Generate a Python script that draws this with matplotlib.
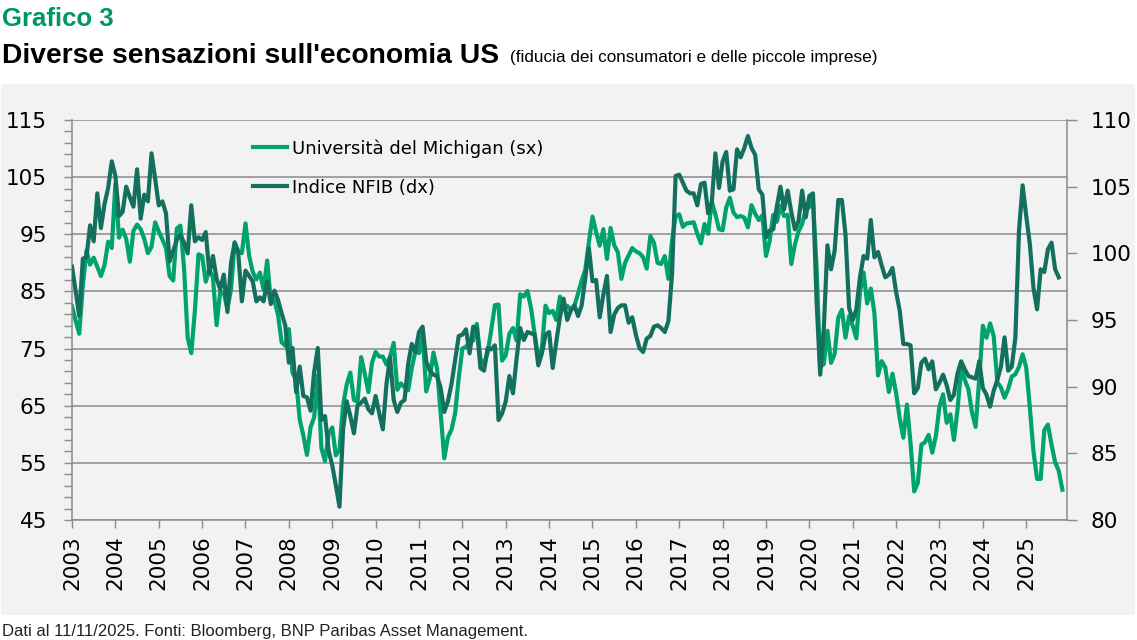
import matplotlib
matplotlib.use('Agg')
import matplotlib.pyplot as plt
import matplotlib.patches as mpatches
import numpy as np

# ============ dati mensili (gen 2003 - nov 2025) ============
michigan = [
    82.4, 79.9, 77.6, 86.0, 92.1, 89.7, 90.9, 89.3, 87.7, 89.6, 93.7, 92.6,   # 2003
    103.8, 94.4, 95.8, 94.2, 90.2, 95.6, 96.7, 95.9, 94.2, 91.7, 92.8, 97.1,  # 2004
    95.5, 94.1, 92.6, 87.7, 86.9, 96.0, 96.5, 89.1, 76.9, 74.2, 81.6, 91.5,   # 2005
    91.2, 86.7, 88.9, 87.4, 79.1, 84.9, 84.7, 82.0, 85.4, 93.6, 92.1, 91.7,   # 2006
    96.9, 91.3, 88.4, 87.1, 88.3, 85.3, 90.4, 83.4, 83.4, 80.9, 76.1, 75.5,   # 2007
    78.4, 70.8, 69.5, 62.6, 59.8, 56.4, 61.2, 63.0, 70.3, 57.6, 55.3, 60.1,   # 2008
    61.2, 56.3, 57.3, 65.1, 68.7, 70.8, 66.0, 65.7, 73.5, 70.6, 67.4, 72.5,   # 2009
    74.4, 73.6, 73.6, 72.2, 73.6, 76.0, 67.8, 68.9, 68.2, 67.7, 71.6, 74.5,   # 2010
    74.2, 77.5, 67.5, 69.8, 74.3, 71.5, 63.7, 55.8, 59.5, 60.8, 63.7, 69.9,   # 2011
    75.0, 75.3, 76.2, 76.4, 79.3, 73.2, 72.3, 74.3, 78.3, 82.6, 82.7, 72.9,   # 2012
    73.8, 77.6, 78.6, 76.4, 84.5, 84.1, 85.1, 82.1, 77.5, 73.2, 75.1, 82.5,   # 2013
    81.2, 81.6, 80.0, 84.1, 81.9, 82.5, 81.8, 82.5, 84.6, 86.9, 88.8, 93.6,   # 2014
    98.1, 95.4, 93.0, 95.9, 90.7, 96.1, 93.1, 91.9, 87.2, 90.0, 91.3, 92.6,   # 2015
    92.0, 91.7, 91.0, 89.0, 94.7, 93.5, 90.0, 89.8, 91.2, 87.2, 93.8, 98.2,   # 2016
    98.5, 96.3, 96.9, 97.0, 97.1, 95.1, 93.4, 96.8, 95.1, 100.7, 98.5, 95.9,  # 2017
    95.7, 99.7, 101.4, 98.8, 98.0, 98.2, 97.9, 96.2, 100.1, 98.6, 97.5, 98.3, # 2018
    91.2, 93.8, 98.4, 97.2, 100.0, 98.2, 98.4, 89.8, 93.2, 95.5, 96.8, 99.3,  # 2019
    99.8, 101.0, 89.1, 71.8, 72.3, 78.1, 72.5, 74.1, 80.4, 81.8, 76.9, 80.7,  # 2020
    79.0, 76.8, 84.9, 88.3, 82.9, 85.5, 81.2, 70.3, 72.8, 71.7, 67.4, 70.6,   # 2021
    67.2, 62.8, 59.4, 65.2, 58.4, 50.0, 51.5, 58.2, 58.6, 59.9, 56.8, 59.7,   # 2022
    64.9, 67.0, 62.0, 63.5, 59.0, 64.4, 71.5, 69.5, 67.9, 63.8, 61.3, 69.7,   # 2023
    79.0, 76.9, 79.4, 77.2, 69.1, 68.2, 66.4, 67.9, 70.1, 70.5, 71.8, 74.0,   # 2024
    71.7, 64.7, 57.0, 52.2, 52.2, 60.7, 61.7, 58.2, 55.1, 53.6, 50.3,         # 2025
]

nfib = [
    99.0, 97.2, 95.3, 99.6, 99.7, 102.1, 100.9, 104.5, 101.9, 103.7, 104.9, 106.9,   # 2003
    105.8, 102.8, 103.1, 105.0, 104.2, 103.5, 106.3, 102.6, 104.4, 103.9, 107.5, 105.6,  # 2004
    103.6, 103.9, 103.0, 99.4, 100.2, 101.0, 101.4, 100.8, 100.0, 103.6, 100.9, 101.2,  # 2005
    101.0, 101.6, 98.5, 99.8, 98.1, 97.3, 98.4, 95.6, 99.3, 100.8, 100.0, 96.4,      # 2006
    98.7, 98.3, 97.9, 96.4, 96.7, 96.4, 97.9, 96.2, 97.2, 96.5, 95.5, 94.6,          # 2007
    91.8, 92.9, 89.6, 91.5, 89.3, 89.2, 88.2, 91.1, 92.9, 87.5, 87.8, 85.2,          # 2008
    84.1, 82.6, 81.0, 86.8, 88.9, 87.8, 86.5, 88.6, 88.8, 89.1, 88.3, 88.0,          # 2009
    89.3, 88.0, 86.8, 90.2, 92.2, 89.0, 88.1, 88.8, 89.0, 91.7, 93.2, 92.6,          # 2010
    94.1, 94.5, 91.9, 91.2, 90.9, 90.8, 89.9, 88.1, 88.9, 90.2, 92.0, 93.8,          # 2011
    93.9, 94.3, 92.5, 94.5, 94.4, 91.4, 91.2, 92.9, 92.8, 93.1, 87.5, 88.0,          # 2012
    88.9, 90.8, 89.5, 92.1, 94.4, 93.5, 94.1, 94.0, 93.9, 91.6, 92.5, 93.9,          # 2013
    94.1, 91.4, 93.4, 95.2, 96.6, 95.0, 95.7, 96.1, 95.3, 96.1, 98.1, 100.4,         # 2014
    97.9, 98.0, 95.2, 96.9, 98.3, 94.1, 95.4, 95.9, 96.1, 96.1, 94.8, 95.2,          # 2015
    93.9, 92.9, 92.6, 93.6, 93.8, 94.5, 94.6, 94.4, 94.1, 94.9, 98.4, 105.8,         # 2016
    105.9, 105.3, 104.7, 104.5, 104.5, 103.6, 105.2, 105.3, 103.0, 103.8, 107.5, 104.9,  # 2017
    106.9, 107.6, 104.7, 104.8, 107.8, 107.2, 107.9, 108.8, 107.9, 107.4, 104.8, 104.4,  # 2018
    101.2, 101.7, 101.8, 103.5, 105.0, 103.3, 104.7, 103.1, 101.8, 102.4, 104.7, 102.7,  # 2019
    104.3, 104.5, 96.4, 90.9, 94.4, 100.6, 98.8, 100.2, 104.0, 104.0, 101.4, 95.9,   # 2020
    95.0, 95.8, 98.2, 99.8, 99.6, 102.5, 99.7, 100.1, 99.1, 98.2, 98.4, 98.9,        # 2021
    97.1, 95.7, 93.2, 93.2, 93.1, 89.5, 89.9, 91.8, 92.1, 91.3, 91.9, 89.8,          # 2022
    90.3, 90.9, 90.1, 89.0, 89.4, 91.0, 91.9, 91.3, 90.8, 90.7, 90.6, 91.9,          # 2023
    89.9, 89.4, 88.5, 89.7, 90.5, 91.5, 93.7, 91.2, 91.5, 93.7, 101.7, 105.1,        # 2024
    102.8, 100.7, 97.4, 95.8, 98.8, 98.6, 100.3, 100.8, 98.8, 98.2,                  # 2025
]

anni = list(range(2003, 2026))
tick_sx = list(range(45, 116, 10))
tick_dx = list(range(80, 111, 5))

t_mich = 2003 + np.arange(len(michigan)) / 12
t_nfib = 2003 + np.arange(len(nfib)) / 12

VERDE = '#00A36B'
TEAL = '#13705F'
GRIGIO = '#8a8a8a'
SFONDO = '#f2f2f2'
TITOLI = ['Liberation Sans', 'DejaVu Sans']

W, H = 1137, 640
fig = plt.figure(figsize=(W / 100, H / 100), dpi=100)
fig.patch.set_facecolor('white')

# riquadro grigio dietro il grafico
bg = mpatches.Rectangle((1 / W, 1 - 615 / H), 1134 / W, (615 - 84) / H,
                        transform=fig.transFigure, facecolor=SFONDO,
                        edgecolor='none', zorder=-10)
fig.patches.append(bg)

ax = fig.add_axes([72 / W, 1 - 520 / H, (1067 - 72) / W, 400 / H])
ax.set_facecolor(SFONDO)
ax2 = ax.twinx()

l1, = ax.plot(t_mich, michigan, color=VERDE, lw=3.0, solid_joinstyle='round',
              label='Università del Michigan (sx)')
l2, = ax2.plot(t_nfib, nfib, color=TEAL, lw=3.0, solid_joinstyle='round',
               label='Indice NFIB (dx)')

ax.set_xlim(2003, 2025.94)
ax.set_ylim(45, 115)
ax2.set_ylim(80, 110)

ax.set_yticks(tick_sx)
ax.set_yticks(np.arange(45, 116, 2), minor=True)
ax2.set_yticks(tick_dx)
ax.set_xticks(anni)
ax.set_xticklabels([str(a) for a in anni], rotation=90)

ax.yaxis.grid(True, which='major', color=GRIGIO, lw=1.1)
ax.set_axisbelow(True)

for s in ['top', 'right']:
    ax.spines[s].set_visible(False)
for s in ['top', 'left', 'bottom']:
    ax2.spines[s].set_visible(False)
for sp in [ax.spines['left'], ax.spines['bottom'], ax2.spines['right']]:
    sp.set_color(GRIGIO)
    sp.set_linewidth(1.1)

ax.tick_params(axis='y', which='both', direction='out', length=6, width=1,
               color=GRIGIO, labelsize=15.5, pad=12)
ax.tick_params(axis='x', direction='out', length=6, width=1, color=GRIGIO,
               labelsize=15.5, pad=5)
ax2.tick_params(axis='y', direction='out', length=7, width=1, color=GRIGIO,
                labelsize=15.5, pad=10)

ax2.legend(handles=[l1, l2], loc='upper left',
           bbox_to_anchor=(253 / W, 1 - 139 / H), bbox_transform=fig.transFigure,
           frameon=False, fontsize=13, handlelength=1.9, handletextpad=0.25,
           labelspacing=1.17, borderpad=0, borderaxespad=0)

# ---- titoli ----
fig.text(2 / W, 1 - 26 / H, 'Grafico 3', color='#00965E', fontsize=18.5,
         fontweight='bold', family=TITOLI, va='baseline', ha='left')
fig.text(2 / W, 1 - 63 / H, "Diverse sensazioni sull'economia US", color='black',
         fontsize=20.3, fontweight='bold', family=TITOLI, va='baseline', ha='left')
fig.text(510 / W, 1 - 62 / H, '(fiducia dei consumatori e delle piccole imprese)',
         color='black', fontsize=12.3, family=TITOLI, va='baseline', ha='left')
fig.text(2 / W, 1 - 636 / H,
         'Dati al 11/11/2025. Fonti: Bloomberg, BNP Paribas Asset Management.',
         color='#222222', fontsize=12, family=TITOLI, va='baseline', ha='left')

fig.savefig('out.png', dpi=100, facecolor='white')
plt.close(fig)
